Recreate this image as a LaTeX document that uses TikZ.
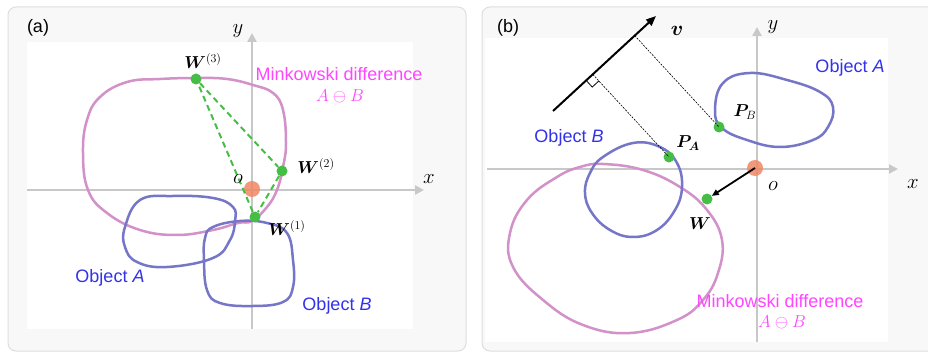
\documentclass[tikz,border=0pt]{standalone}
\usepackage{amsmath,bm}
\usepackage{fontspec}
\setmainfont{Liberation Sans}
\usetikzlibrary{arrows.meta,calc}
\definecolor{panelbg}{RGB}{248,248,248}
\definecolor{panelbd}{RGB}{222,222,222}
\definecolor{axisgray}{RGB}{200,200,200}
\definecolor{minkpink}{RGB}{210,145,200}
\definecolor{objblue}{RGB}{118,118,200}
\definecolor{dotgreen}{RGB}{70,190,70}
\definecolor{origorange}{RGB}{240,135,100}
\definecolor{txtmag}{RGB}{255,70,255}
\definecolor{txtblue}{RGB}{50,50,235}
\tikzset{
  panel/.style={draw=panelbd,fill=panelbg,line width=1pt,rounded corners=8pt},
  inner/.style={fill=white,draw=none},
  axis/.style={draw=axisgray,line width=2.5pt,-{Triangle[length=9pt,width=9pt]}},
  mink/.style={draw=minkpink,line width=2.5pt},
  obj/.style={draw=objblue,line width=2.5pt},
  gdot/.style={circle,fill=dotgreen,inner sep=0pt,minimum size=11pt},
  odot/.style={circle,fill=origorange,fill opacity=0.85,inner sep=0pt,minimum size=16pt},
  lbl/.style={font=\fontsize{18}{20}\selectfont,inner sep=0pt},
  axlbl/.style={font=\fontsize{21}{23}\selectfont,inner sep=0pt},
  maglbl/.style={lbl,text=txtmag},
  bluelbl/.style={lbl,text=txtblue},
  simplex/.style={draw=dotgreen,line width=2pt,dash pattern=on 6pt off 4pt},
  proj/.style={draw=black,line width=0.6pt,dash pattern=on 2pt off 1.2pt},
}
\begin{document}
\begin{tikzpicture}[x=1pt,y=-1pt]
\useasboundingbox (0,0) rectangle (928,352);
% ---------- panel (a) ----------
\path[panel] (8,7) rectangle (466,351);
\path[inner] (27,42) rectangle (413,329);
\coordinate (axl) at (27,190);
\coordinate (axr) at (424,190);
\coordinate (ayb) at (252,329);
\coordinate (ayt) at (252,33);
\draw[axis] (axl) -- (axr);
\draw[axis] (ayb) -- (ayt);
\draw[mink] plot[smooth cycle,tension=0.7] coordinates {
 (252,221) (267,207) (277,190) (283,167) (286,143) (283,110) (273,93) (253,85)
 (227,79) (197,78) (160,79) (127,82) (100,97) (87,120) (83,153) (88,190)
 (107,213) (140,230) (177,235) (213,230) (238,223)};
\draw[obj] plot[smooth cycle,tension=0.7] coordinates {
 (140,200) (173,196) (213,198) (233,207) (235,221) (230,240) (213,258)
 (167,267) (137,262) (125,247) (125,227)};
\draw[obj] plot[smooth cycle,tension=0.7] coordinates {
 (213,227) (240,221) (267,223) (287,233) (293,260) (293,287) (283,302)
 (253,306) (220,303) (207,290) (204,260) (205,238)};
\node[odot] (oa) at (252,189) {};
\node[gdot] (w3) at (196,79) {};
\node[gdot] (w2) at (282,171) {};
\node[gdot] (w1) at (255,217) {};
\draw[simplex] (w3) -- (w2) -- (w1) -- (w3);
\node[lbl] (la) at (38,28) {(a)};
\node[axlbl] (lya) at (238,31) {$y$};
\node[axlbl] (lxa) at (429,179) {$x$};
\node[axlbl] (loa) at (238,179) {$o$};
\node[lbl] (lw3) at (203,61) {$\bm{W}^{(3)}$};
\node[lbl] (lw2) at (316,166) {$\bm{W}^{(2)}$};
\node[lbl] (lw1) at (287,228) {$\bm{W}^{(1)}$};
\node[maglbl] (mda) at (339,74) {Minkowski difference};
\node[maglbl] (aba) at (340,96) {$A\ominus B$};
\node[bluelbl] (oba) at (110,278) {Object \textit{A}};
\node[bluelbl] (obb) at (337,306) {Object \textit{B}};
% ---------- panel (b) ----------
\path[panel] (482,7) rectangle (945,351);
\path[inner] (485,38) rectangle (888,342);
\coordinate (bxl) at (487,169);
\coordinate (bxr) at (898,169);
\coordinate (byb) at (757,342);
\coordinate (byt) at (757,27);
\draw[axis] (bxl) -- (bxr);
\draw[axis] (byb) -- (byt);
\draw[mink] plot[smooth cycle,tension=0.7] coordinates {
 (603,164) (643,170) (680,187) (707,210) (722,240) (718,273) (703,300)
 (677,320) (630,333) (583,325) (543,300) (513,267) (510,233) (527,200)
 (557,177) (580,167)};
\draw[obj] plot[smooth cycle,tension=0.7] coordinates {
 (603,157) (633,143) (660,147) (677,163) (682,187) (675,210) (657,230)
 (633,237) (610,230) (592,213) (585,193) (590,173)};
\draw[obj] plot[smooth cycle,tension=0.7] coordinates {
 (723,83) (750,73) (787,80) (820,92) (833,107) (828,127) (813,140)
 (780,147) (747,140) (722,128) (715,110)};
\node[odot] (ob) at (755,168) {};
\node[gdot] (pb) at (719,127) {};
\node[gdot] (pa) at (669,157) {};
\node[gdot] (w) at (707,199) {};
\draw[line width=1.8pt,-{Triangle[length=7pt,width=6pt]}] (ob.center) -- (w);
\coordinate (vs) at (553,111);
\coordinate (ve) at (656,16);
\draw[line width=2pt,-{Triangle[length=10pt,width=8pt]}] (vs) -- (ve);
\coordinate (fb) at ($(vs)!(pb)!(ve)$);
\coordinate (fa) at ($(vs)!(pa)!(ve)$);
\draw[proj] (fb) -- (pb.center);
\draw[proj] (fa) -- (pa.center);
\draw[line width=0.8pt] ($(fa)!9pt!(vs)$) -- ($(fa)!9pt!(vs)!9pt!90:(vs)$) -- ($(fa)!9pt!(pa)$);
\node[lbl] (lb) at (508,28) {(b)};
\node[axlbl] (lyb) at (773,27) {$y$};
\node[axlbl] (lxb) at (913,184) {$x$};
\node[axlbl] (lob) at (773,186) {$o$};
\node[axlbl] (lv) at (677,31) {$\bm{v}$};
\node[lbl] (lpb) at (745,112) {$\bm{P}_{B}$};
\node[lbl] (lpa) at (688,143) {$\bm{P}_{\bm{A}}$};
\node[lbl] (lw) at (700,224) {$\bm{W}$};
\node[bluelbl] (obab) at (850,68) {Object \textit{A}};
\node[bluelbl] (obbb) at (569,138) {Object \textit{B}};
\node[maglbl] (mdb) at (780,301) {Minkowski difference};
\node[maglbl] (abb) at (782,322) {$A\ominus B$};
\end{tikzpicture}
\end{document}
